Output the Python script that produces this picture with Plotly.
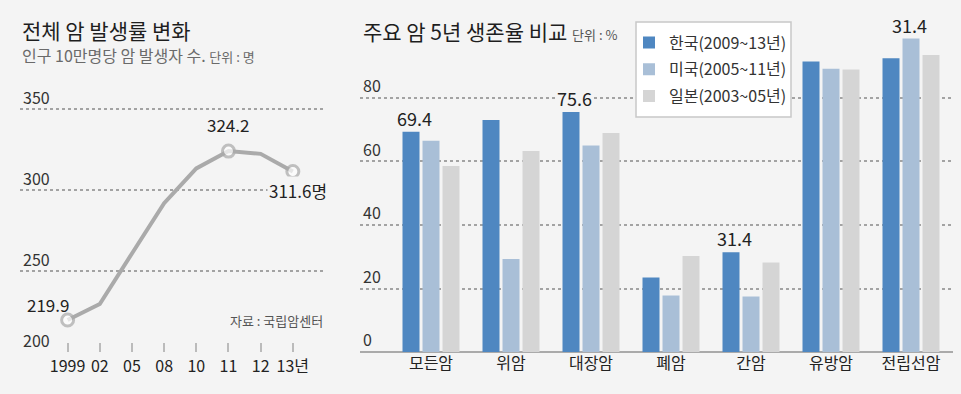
import plotly.graph_objects as go

FONT = "Noto Sans CJK KR"

# ---- left chart data ----
years = ["1999", "02", "05", "08", "10", "11", "12", "13년"]
incidence = [219.9, 229.8, 261.0, 292.0, 313.5, 324.2, 322.5, 311.6]
highlight = [True, False, False, False, False, True, False, True]
left_yticks = [200, 250, 300, 350]

# ---- right chart data ----
cancers = ["모든암", "위암", "대장암", "폐암", "간암", "유방암", "전립선암"]
korea = [69.4, 73.1, 75.6, 23.5, 31.4, 91.5, 92.5]
usa = [66.5, 29.3, 65.0, 17.8, 17.5, 89.2, 98.7]
japan = [58.6, 63.3, 69.0, 30.2, 28.2, 89.0, 93.5]
series_names = ["한국(2009~13년)", "미국(2005~11년)", "일본(2003~05년)"]
label_korea = ["69.4", "", "75.6", "", "31.4", "", ""]
label_usa = ["", "", "", "", "", "", "31.4"]
right_yticks = [0, 20, 40, 60, 80]

W, H = 961, 394
BG = "#f4f4f4"
GRID = "#a3a3a3"

fig = go.Figure()

# line chart (category positions by index so numeric-looking labels stay categories)
xi = list(range(len(years)))
fig.add_trace(go.Scatter(
    x=xi, y=incidence, mode="lines+markers",
    line=dict(color="#aaaaaa", width=4),
    marker=dict(size=[12 if h else 0 for h in highlight], color="#ffffff",
                line=dict(color="#aaaaaa", width=3)),
    xaxis="x", yaxis="y", showlegend=False, cliponaxis=False,
    text=years, hovertemplate="%{text}: %{y}<extra></extra>",
))

colors = ["#4f87c1", "#a9bfd7", "#d5d5d5"]
for name, vals, col in zip(series_names, [korea, usa, japan], colors):
    fig.add_trace(go.Bar(
        x=cancers, y=vals, name=name, marker=dict(color=col, line=dict(width=0)),
        xaxis="x2", yaxis="y2", legendgroup=name,
    ))

ann = []
# titles
ann.append(dict(text="전체 암 발생률 변화", x=20 / W, y=1 - 30 / H, xref="paper", yref="paper",
                xanchor="left", yanchor="middle", showarrow=False,
                font=dict(size=21, color="#1e1e1e")))
ann.append(dict(text="인구 10만명당 암 발생자 수. <span style='font-size:13px'>단위 : 명</span>",
                x=20 / W, y=1 - 55 / H, xref="paper", yref="paper",
                xanchor="left", yanchor="middle", showarrow=False,
                font=dict(size=16, color="#6a6a6a")))
ann.append(dict(text="주요 암 5년 생존율 비교 <span style='font-size:13px;color:#555'>단위 : %</span>",
                x=361 / W, y=1 - 31 / H, xref="paper", yref="paper",
                xanchor="left", yanchor="middle", showarrow=False,
                font=dict(size=21, color="#1e1e1e")))
ann.append(dict(text="자료 : 국립암센터", x=325 / W, y=1 - 320 / H, xref="paper", yref="paper",
                xanchor="right", yanchor="middle", showarrow=False,
                font=dict(size=13, color="#555")))

# left data labels
ann.append(dict(text=f"{incidence[0]}", x=0, y=incidence[0], xref="x", yref="y",
                xanchor="right", yanchor="middle", xshift=3, yshift=16, showarrow=False,
                font=dict(size=17, color="#222")))
ann.append(dict(text=f"{incidence[5]}", x=5, y=incidence[5], xref="x", yref="y",
                xanchor="center", yanchor="middle", yshift=27, showarrow=False,
                font=dict(size=17, color="#222")))
ann.append(dict(text=f"{incidence[7]}명", x=7, y=incidence[7], xref="x", yref="y",
                xanchor="left", yanchor="middle", xshift=-26, yshift=-19, showarrow=False,
                bgcolor=BG, font=dict(size=17, color="#222")))

# right data labels (background only where the label sits on a gridline)
label_bg_korea = [False, False, True, False, False, False, False]
for i, t in enumerate(label_korea):
    if t:
        ann.append(dict(text=t, x=i, y=korea[i], xref="x2", yref="y2",
                        xanchor="center", yanchor="middle", xshift=-17, yshift=14,
                        showarrow=False, borderpad=0,
                        bgcolor=BG if label_bg_korea[i] else "rgba(0,0,0,0)",
                        font=dict(size=18, color="#222")))
for i, t in enumerate(label_usa):
    if t:
        ann.append(dict(text=t, x=i, y=usa[i], xref="x2", yref="y2",
                        xanchor="center", yanchor="middle", xshift=-2, yshift=14,
                        showarrow=False, borderpad=0,
                        font=dict(size=18, color="#222")))

# legend backdrop box
shapes = [dict(type="rect", xref="paper", yref="paper",
               x0=636 / W, x1=791 / W, y0=1 - 117 / H, y1=1 - 22 / H,
               fillcolor="#ffffff", line=dict(color="#c8c8c8", width=1.5), layer="above")]

fig.update_layout(
    width=W, height=H, margin=dict(l=0, r=0, t=0, b=0),
    paper_bgcolor=BG, plot_bgcolor="rgba(0,0,0,0)",
    font=dict(family=FONT, color="#222", size=16),
    barmode="group", bargap=0.25, bargroupgap=0.15,
    annotations=ann, shapes=shapes,
    legend=dict(x=629 / W, y=1 - 25.5 / H, xanchor="left", yanchor="top",
                bgcolor="rgba(0,0,0,0)", borderwidth=0,
                font=dict(size=16, color="#333"), tracegroupgap=3),
    xaxis=dict(domain=[20 / W, 325 / W], range=[-1.48, 8.0],
               tickvals=xi, ticktext=years,
               showgrid=False, zeroline=False, showline=False,
               ticks="inside", ticklen=9, tickcolor="#bbbbbb", tickwidth=1.5,
               ticklabelstandoff=3,
               tickfont=dict(size=16, color="#222"), anchor="y"),
    yaxis=dict(domain=[1 - 352.3 / H, 1 - 60.7 / H], range=[200, 380],
               tickvals=left_yticks, showgrid=True, gridcolor=GRID, griddash="dot",
               gridwidth=1.5, zeroline=False, showline=False,
               ticklabelposition="inside top", tickfont=dict(size=16, color="#333"),
               anchor="x"),
    xaxis2=dict(domain=[360 / W, 953 / W], range=[-0.8875, 6.525], type="category",
                showgrid=False, zeroline=False, showline=False, ticks="",
                tickfont=dict(size=16, color="#222"), anchor="y2"),
    yaxis2=dict(domain=[1 - 352 / H, 1 - 18.6 / H], range=[0, 105],
                tickvals=right_yticks, showgrid=True, gridcolor=GRID, griddash="dot",
                gridwidth=1.5, zeroline=True, zerolinecolor="#aaaaaa", zerolinewidth=2,
                showline=False, ticklabelposition="inside top",
                tickfont=dict(size=16, color="#333"), anchor="x2"),
)

fig.write_html("out.html", config={"displayModeBar": False},
               post_script="document.body.style.margin='0';")
